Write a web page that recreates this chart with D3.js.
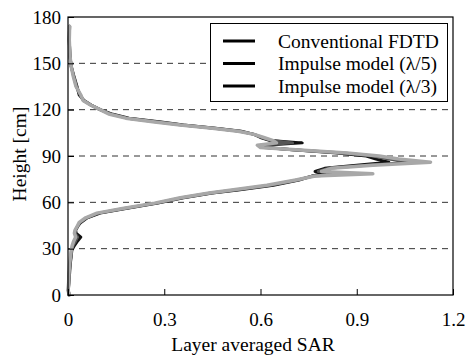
<!DOCTYPE html>
<html lang="en">
<head>
  <meta charset="UTF-8">
  <title>Layer averaged SAR vs height</title>
  <script src="https://d3js.org/d3.v7.min.js"></script>
  <style>
    body { margin: 0; background: #fff; }
    svg, svg text { font-family: "Liberation Serif", "DejaVu Serif", serif !important; }
    .axis text { font-size: 19px; fill: #000; }
    .axis path, .axis line { stroke: #000; }
  </style>
</head>
<body>
  <svg width="467" height="355" font-family="Liberation Serif, serif"></svg>

  <script>
    // heights (cm) shared by all three curves
    const heights = [0, 3, 8, 14, 20, 25, 29, 32, 35, 37.5, 40, 42, 45, 47, 50, 53, 56, 59.5, 63, 66,
      68, 71, 74.5, 77, 78.5, 80, 82, 84, 86, 88, 90, 92, 94, 95.5, 97, 98.5, 100, 102, 104, 106,
      108, 110, 112, 114.5, 117, 120, 123, 126, 129.5, 135, 142, 148, 155, 165, 174];

    const sarFdtd = [0.003, 0.001, 0.003, 0.005, 0.007, 0.010, 0.012, 0.02, 0.03, 0.04,
      0.025, 0.024, 0.032, 0.040, 0.060, 0.10, 0.18, 0.28, 0.36, 0.45,
      0.53, 0.64, 0.72, 0.76, 0.80, 0.77, 0.80, 0.90, 1.00, 0.96,
      0.93, 0.84, 0.70, 0.62, 0.61, 0.73, 0.63, 0.60, 0.58, 0.54,
      0.46, 0.36, 0.29, 0.19, 0.14, 0.10, 0.072, 0.05, 0.035, 0.028,
      0.018, 0.010, 0.006, 0.004, 0.005];

    const sarLambda5 = [0.004, 0.001, 0.002, 0.004, 0.006, 0.009, 0.011, 0.016, 0.024, 0.03,
      0.022, 0.023, 0.031, 0.038, 0.058, 0.095, 0.175, 0.275, 0.355, 0.445,
      0.52, 0.63, 0.715, 0.765, 0.88, 0.78, 0.81, 0.93, 1.07, 1.0,
      0.95, 0.86, 0.70, 0.61, 0.60, 0.70, 0.635, 0.605, 0.58, 0.535,
      0.455, 0.355, 0.28, 0.185, 0.135, 0.10, 0.071, 0.048, 0.038, 0.026,
      0.017, 0.010, 0.006, 0.004, 0.005];

    const sarLambda3 = [0.004, 0.0, 0.002, 0.003, 0.005, 0.008, 0.010, 0.013, 0.018, 0.024,
      0.020, 0.022, 0.030, 0.035, 0.055, 0.09, 0.17, 0.27, 0.35, 0.44,
      0.51, 0.62, 0.71, 0.77, 0.95, 0.79, 0.82, 0.95, 1.13, 1.03,
      0.97, 0.87, 0.71, 0.60, 0.59, 0.65, 0.64, 0.61, 0.58, 0.53,
      0.45, 0.35, 0.27, 0.18, 0.13, 0.10, 0.07, 0.047, 0.04, 0.025,
      0.016, 0.010, 0.006, 0.004, 0.005];

    const seriesNames = ["Conventional FDTD", "Impulse model (\u03bb/5)", "Impulse model (\u03bb/3)"];
    const seriesColors = ["#111", "#555", "#a8a8a8"];
    const xTicks = [0, 0.3, 0.6, 0.9, 1.2];
    const yTicks = [0, 30, 60, 90, 120, 150, 180];
    const gridValues = [30, 60, 90, 120, 150];

    const svg = d3.select("svg");
    const plotLeft = 68, plotRight = 453, plotTop = 17, plotBottom = 295;

    const x = d3.scaleLinear().domain([0, 1.2]).range([plotLeft, plotRight]);
    const y = d3.scaleLinear().domain([0, 180]).range([plotBottom, plotTop]);

    // dashed grid
    svg.append("g")
      .selectAll("line")
      .data(gridValues)
      .enter().append("line")
        .attr("x1", plotLeft).attr("x2", plotRight)
        .attr("y1", d => y(d)).attr("y2", d => y(d))
        .attr("stroke", "#333")
        .attr("stroke-width", 1)
        .attr("stroke-dasharray", "6,5");

    // curves, black first, light gray on top
    const line = d3.line()
      .x(d => x(d[0]))
      .y(d => y(d[1]));

    const allSeries = [sarFdtd, sarLambda5, sarLambda3];
    allSeries.forEach((vals, i) => {
      svg.append("path")
        .datum(vals.map((v, j) => [v, heights[j]]))
        .attr("fill", "none")
        .attr("stroke", seriesColors[i])
        .attr("stroke-width", i === 2 ? 3.5 : 3)
        .attr("stroke-linejoin", "round")
        .attr("stroke-linecap", "round")
        .attr("d", line);
    });

    // axes
    svg.append("g")
      .attr("class", "axis")
      .attr("transform", `translate(0,${plotBottom})`)
      .call(d3.axisBottom(x).tickValues(xTicks).tickFormat(d3.format("")).tickSizeInner(-6).tickSizeOuter(0).tickPadding(18))
      .attr("font-family", null).attr("font-size", null);

    svg.append("g")
      .attr("class", "axis")
      .attr("transform", `translate(${plotLeft},0)`)
      .call(d3.axisLeft(y).tickValues(yTicks).tickSizeInner(-6).tickSizeOuter(0).tickPadding(7))
      .attr("font-family", null).attr("font-size", null);

    svg.selectAll(".axis .domain").remove();

    // frame
    svg.append("rect")
      .attr("x", plotLeft).attr("y", plotTop)
      .attr("width", plotRight - plotLeft).attr("height", plotBottom - plotTop)
      .attr("fill", "none")
      .attr("stroke", "#000")
      .attr("stroke-width", 1.2);

    // axis titles
    svg.append("text")
      .attr("x", 253).attr("y", 351)
      .attr("text-anchor", "middle")
      .attr("font-size", 19.5)
      .text("Layer averaged SAR");

    svg.append("text")
      .attr("transform", "translate(26,154) rotate(-90)")
      .attr("text-anchor", "middle")
      .attr("font-size", 19.5)
      .text("Height [cm]");

    // legend
    const legend = svg.append("g");
    legend.append("rect")
      .attr("x", 210.5).attr("y", 23.5)
      .attr("width", 237).attr("height", 78)
      .attr("fill", "#fff")
      .attr("stroke", "#000")
      .attr("stroke-width", 1);

    const rowY = [41, 63.5, 86];
    seriesNames.forEach((name, i) => {
      legend.append("line")
        .attr("x1", 223).attr("x2", 255)
        .attr("y1", rowY[i]).attr("y2", rowY[i])
        .attr("stroke", "#000")
        .attr("stroke-width", 3);
      legend.append("text")
        .attr("x", 278).attr("y", rowY[i])
        .attr("dy", "0.35em")
        .attr("font-size", 19.5)
        .text(name);
    });
  </script>
</body>
</html>
